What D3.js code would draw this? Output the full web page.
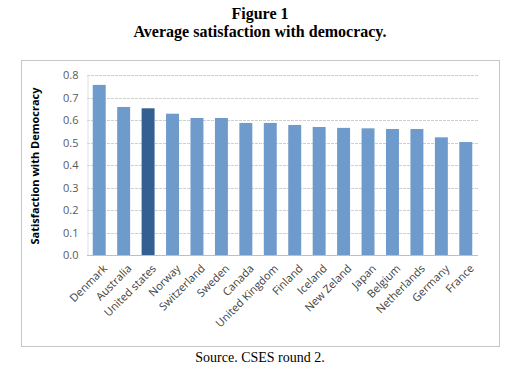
<!DOCTYPE html>
<html>
<head>
<meta charset="utf-8">
<script src="https://cdn.jsdelivr.net/npm/d3@7"></script>
<style>
  body { margin: 0; background: #fff; }
  svg { display: block; }
</style>
</head>
<body>
<div id="chart"></div>
<script>
const countries = ['Denmark', 'Australia', 'United states', 'Norway', 'Switzerland', 'Sweden',
  'Canada', 'United Kingdom', 'Finland', 'Iceland', 'New Zeland', 'Japan', 'Belgium',
  'Netherlands', 'Germany', 'France']
const satisfaction = [0.756, 0.658, 0.652, 0.628, 0.609, 0.609, 0.587, 0.587, 0.578,
  0.569, 0.565, 0.563, 0.560, 0.560, 0.523, 0.502]
const highlight = 'United states'
const yTicks = [0, 0.1, 0.2, 0.3, 0.4, 0.5, 0.6, 0.7, 0.8]

const width = 522, height = 380
const svg = d3.select('#chart').append('svg')
  .attr('width', width)
  .attr('height', height)

// titles
svg.append('text')
  .attr('x', 260).attr('y', 19)
  .attr('text-anchor', 'middle')
  .style('font-family', 'Liberation Serif, Times New Roman, serif')
  .style('font-weight', 'bold')
  .style('font-size', '16px')
  .text('Figure 1')
svg.append('text')
  .attr('x', 260).attr('y', 37)
  .attr('text-anchor', 'middle')
  .style('font-family', 'Liberation Serif, Times New Roman, serif')
  .style('font-weight', 'bold')
  .style('font-size', '16px')
  .text('Average satisfaction with democracy.')

// chart frame
svg.append('rect')
  .attr('x', 21.5).attr('y', 60.5)
  .attr('width', 478).attr('height', 286)
  .attr('fill', '#fff')
  .attr('stroke', '#c6c6c6')

const x = d3.scaleBand()
  .domain(countries)
  .range([87, 478])
  .paddingInner(0.47)
  .paddingOuter(0.235)

const y = d3.scaleLinear()
  .domain([0, 0.8])
  .range([255, 75])

// grid
svg.append('g')
  .selectAll('line')
  .data(yTicks.slice(1))
  .enter().append('line')
    .attr('x1', 87).attr('x2', 478)
    .attr('y1', d => Math.round(y(d)) + 0.5)
    .attr('y2', d => Math.round(y(d)) + 0.5)
    .attr('stroke', '#cfcfcf')
    .attr('stroke-dasharray', '3,1')

// y axis
const yAxis = svg.append('g')
  .attr('transform', 'translate(87.5,0)')
  .call(d3.axisLeft(y).tickValues(yTicks).tickFormat(d3.format('.1f')).tickSize(0).tickPadding(9))
yAxis.select('.domain').attr('stroke', '#e0e0e0')
yAxis.selectAll('text')
  .style('font-family', 'Open Sans, Liberation Sans, sans-serif')
  .style('font-size', '11px')
  .attr('fill', '#595959')

svg.append('text')
  .attr('transform', 'translate(39,166)rotate(-90)')
  .attr('text-anchor', 'middle')
  .style('font-family', 'Open Sans, Liberation Sans, sans-serif')
  .style('font-weight', 'bold')
  .style('font-size', '11px')
  .attr('fill', '#000')
  .text('Satisfaction with Democracy')

// bars
svg.append('g')
  .selectAll('rect')
  .data(countries)
  .enter().append('rect')
    .attr('x', d => x(d))
    .attr('y', (d, i) => y(satisfaction[i]))
    .attr('width', x.bandwidth())
    .attr('height', (d, i) => y(0) - y(satisfaction[i]))
    .attr('fill', d => d === highlight ? '#345f91' : '#6e9bcb')

// x axis
const xAxis = svg.append('g')
  .attr('transform', 'translate(0,255.5)')
  .call(d3.axisBottom(x).tickSize(0).tickPadding(0))
xAxis.select('.domain').attr('stroke', '#bfbfbf').attr('d', 'M87,0H478')
xAxis.selectAll('text')
  .style('font-family', 'Open Sans, Liberation Sans, sans-serif')
  .style('font-size', '11px')
  .attr('fill', '#404040')
  .attr('text-anchor', 'end')
  .attr('dy', '0.35em')
  .attr('transform', 'translate(6,11)rotate(-45)')

// source
svg.append('text')
  .attr('x', 260).attr('y', 362)
  .attr('text-anchor', 'middle')
  .style('font-family', 'Liberation Serif, Times New Roman, serif')
  .style('font-size', '14px')
  .text('Source. CSES round 2.')
</script>
</body>
</html>
